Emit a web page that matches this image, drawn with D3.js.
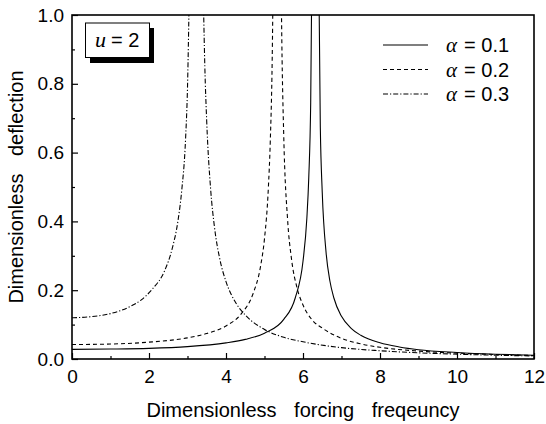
<!DOCTYPE html>
<html>
<head>
<meta charset="utf-8">
<script src="https://cdn.jsdelivr.net/npm/d3@7"></script>
<style>
  body { margin: 0; background: #fff; }
  svg { display: block; }
</style>
</head>
<body>
<div id="chart"></div>
<script>
// chart data (null = break between branches)
const freqA1 = [0, 1, 2, 3, 4, 4.5, 5, 5.5, 5.8, 6.0, 6.1, 6.15, 6.2, 6.26, null,
  6.38, 6.45, 6.5, 6.6, 6.7, 6.8, 7, 7.25, 7.5, 8, 8.5, 9, 10, 11, 12];
const deflA1 = [0.028, 0.029, 0.031, 0.036, 0.047, 0.057, 0.075, 0.115, 0.178, 0.284, 0.409, 0.528, 0.745, 1.49, null,
  1.47, 0.673, 0.484, 0.309, 0.226, 0.178, 0.124, 0.089, 0.069, 0.047, 0.035, 0.027, 0.019, 0.014, 0.011];

const freqA2 = [0, 1, 2, 3, 3.5, 4, 4.4, 4.7, 4.9, 5.0, 5.1, 5.15, 5.2, 5.25, null,
  5.42, 5.45, 5.5, 5.6, 5.7, 5.85, 6, 6.25, 6.5, 7, 7.5, 8, 9, 10, 11, 12];
const deflA2 = [0.042, 0.0435, 0.049, 0.0615, 0.074, 0.096, 0.132, 0.189, 0.271, 0.35, 0.497, 0.632, 0.871, 1.41, null,
  1.235, 0.925, 0.648, 0.405, 0.292, 0.205, 0.157, 0.112, 0.09, 0.06, 0.044, 0.034, 0.023, 0.017, 0.013, 0.010];

const freqA3 = [0, 0.5, 1, 1.5, 1.8, 2.1, 2.4, 2.6, 2.75, 2.85, 2.95, 3.0, 3.06, null,
  3.38, 3.45, 3.5, 3.6, 3.7, 3.85, 4.0, 4.25, 4.5, 5, 5.5, 6, 7, 8, 9, 10, 11, 12];
const deflA3 = [0.12, 0.123, 0.132, 0.152, 0.172, 0.205, 0.255, 0.32, 0.4, 0.49, 0.64, 0.79, 1.17, null,
  1.26, 0.851, 0.688, 0.495, 0.384, 0.285, 0.225, 0.164, 0.128, 0.086, 0.063, 0.05, 0.033, 0.024, 0.018, 0.014, 0.011, 0.009];

const alphaLabels = ['0.1', '0.2', '0.3'];
const xMajorTicks = [0, 2, 4, 6, 8, 10, 12];
const xMinorTicks = [1, 3, 5, 7, 9, 11];
const yMajorTicks = [0, 0.2, 0.4, 0.6, 0.8, 1.0];
const yMinorTicks = [0.1, 0.3, 0.5, 0.7, 0.9];

// dimensions
const margin = { top: 15, right: 12, bottom: 65, left: 72 };
const width = 546 - margin.left - margin.right;
const height = 424 - margin.top - margin.bottom;

const svgRoot = d3.select('#chart')
  .append('svg')
  .attr('width', 546)
  .attr('height', 424);

const svg = svgRoot.append('g')
  .attr('transform', `translate(${margin.left}, ${margin.top})`);

const xScale = d3.scaleLinear().domain([0, 12]).range([0, width]);
const yScale = d3.scaleLinear().domain([0, 1]).range([height, 0]);

svg.append('clipPath').attr('id', 'plotClip')
  .append('rect').attr('width', width).attr('height', height);

const sansFont = 'Liberation Sans, Arial, sans-serif';

// x axis, ticks pointing inwards
svg.append('g')
  .attr('transform', `translate(0, ${height})`)
  .call(d3.axisBottom(xScale).tickValues(xMajorTicks).tickSizeInner(-6).tickSizeOuter(0).tickPadding(11));
svg.append('g')
  .attr('transform', `translate(0, ${height})`)
  .call(d3.axisBottom(xScale).tickValues(xMinorTicks).tickSizeInner(-3).tickSizeOuter(0).tickFormat(''));

// y axis
svg.append('g')
  .call(d3.axisLeft(yScale).tickValues(yMajorTicks).tickSizeInner(-6).tickSizeOuter(0).tickPadding(8).tickFormat(d3.format('.1f')));
svg.append('g')
  .call(d3.axisLeft(yScale).tickValues(yMinorTicks).tickSizeInner(-3).tickSizeOuter(0).tickFormat(''));

svg.selectAll('.tick text')
  .style('font-family', sansFont)
  .style('font-size', '19px')
  .attr('fill', '#000');
svg.selectAll('.tick line').attr('stroke', '#000').attr('stroke-width', 1.2);
svg.selectAll('.domain').remove();

// frame
svg.append('rect')
  .attr('width', width)
  .attr('height', height)
  .attr('fill', 'none')
  .attr('stroke', '#000')
  .attr('stroke-width', 1.6);

// curves
const series = [
  { freq: freqA1, defl: deflA1, dash: null },
  { freq: freqA2, defl: deflA2, dash: '4,3' },
  { freq: freqA3, defl: deflA3, dash: '5,2,1.2,2' }
];

const line = d3.line()
  .defined(d => d[1] != null)
  .x(d => xScale(d[0]))
  .y(d => yScale(d[1]))
  .curve(d3.curveMonotoneX);

series.forEach(s => {
  const pts = s.freq.map((f, i) => [f, s.defl[i]]);
  svg.append('path')
    .datum(pts)
    .attr('clip-path', 'url(#plotClip)')
    .attr('fill', 'none')
    .attr('stroke', '#000')
    .attr('stroke-width', 1.1)
    .attr('stroke-dasharray', s.dash)
    .attr('d', line);
});

// legend
const legend = svgRoot.append('g');
series.forEach((s, i) => {
  const ly = 45 + i * 24.5;
  legend.append('line')
    .attr('x1', 383).attr('x2', 428)
    .attr('y1', ly).attr('y2', ly)
    .attr('stroke', '#000')
    .attr('stroke-width', 1.1)
    .attr('stroke-dasharray', s.dash);
  const t = legend.append('text')
    .attr('x', 446)
    .attr('y', ly + 7)
    .style('font-size', '20px')
    .attr('fill', '#000');
  t.append('tspan')
    .style('font-family', 'Liberation Serif, Times New Roman, serif')
    .style('font-style', 'italic')
    .style('font-size', '21px')
    .text('α');
  t.append('tspan')
    .style('font-family', sansFont)
    .attr('dx', 7)
    .text('= ' + alphaLabels[i]);
});

// "u = 2" box with shadow
svgRoot.append('rect')
  .attr('x', 90).attr('y', 28).attr('width', 64).attr('height', 35)
  .attr('fill', '#000');
svgRoot.append('rect')
  .attr('x', 85.5).attr('y', 23).attr('width', 64).attr('height', 34.5)
  .attr('fill', '#fff')
  .attr('stroke', '#000')
  .attr('stroke-width', 1);
const uText = svgRoot.append('text')
  .attr('x', 95)
  .attr('y', 47)
  .attr('fill', '#000');
uText.append('tspan')
  .style('font-family', 'Liberation Serif, Times New Roman, serif')
  .style('font-style', 'italic')
  .style('font-size', '22px')
  .text('u');
uText.append('tspan')
  .style('font-family', sansFont)
  .style('font-size', '20px')
  .attr('dx', 5)
  .text('= 2');

// axis titles
svgRoot.append('text')
  .attr('x', margin.left + width / 2)
  .attr('y', 417)
  .attr('text-anchor', 'middle')
  .style('font-family', sansFont)
  .style('font-size', '20px')
  .style('word-spacing', '12px')
  .attr('fill', '#000')
  .text('Dimensionless forcing freqeuncy');

svgRoot.append('text')
  .attr('transform', `translate(23, ${margin.top + height / 2}) rotate(-90)`)
  .attr('text-anchor', 'middle')
  .style('font-family', sansFont)
  .style('font-size', '20px')
  .style('word-spacing', '12px')
  .attr('fill', '#000')
  .text('Dimensionless deflection');
</script>
</body>
</html>
